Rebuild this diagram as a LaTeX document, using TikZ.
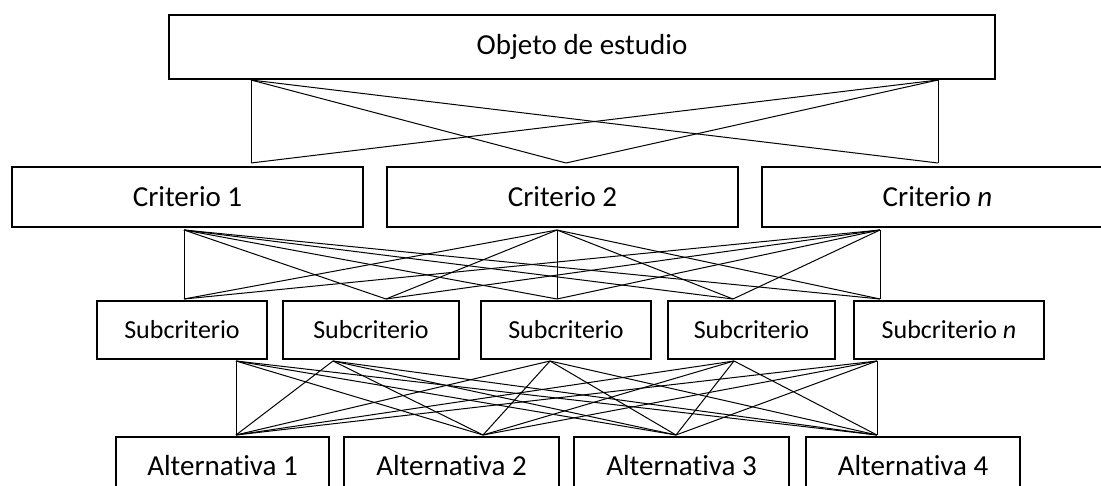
\documentclass[tikz,border=0pt]{standalone}
\usepackage{fontspec}
\setmainfont{Carlito}[Ligatures=NoCommon]
\usepackage{xcolor}
\usepackage{tikz}
\definecolor{ink}{HTML}{000000}
\tikzset{
  box/.style={draw=ink, line width=2.8pt, rectangle, inner sep=0pt, minimum height=60pt, font=\fontsize{29}{34}\selectfont},
  subbox/.style={box, minimum height=58pt, font=\fontsize{26}{31}\selectfont},
  link/.style={draw=ink, line width=1pt},
}

\begin{document}
\begin{tikzpicture}[x=1pt, y=-1pt]
  \useasboundingbox (0,0) rectangle (1101,486);
  \clip (0,0) rectangle (1101,486);

  \node[box, minimum width=826pt, minimum height=64pt] (obj) at (582,47) {Objeto de estudio};

  \node[box, minimum width=351pt] (c1) at (187.5,197) {Criterio 1};
  \node[box, minimum width=351pt] (c2) at (562.5,197) {Criterio 2};
  \node[box, minimum width=351pt] (cn) at (937.5,197) {Criterio \textit{n}};

  \node[subbox, minimum width=170pt] (s1) at (182,330) {Subcriterio};
  \node[subbox, minimum width=176pt] (s2) at (371,330) {Subcriterio};
  \node[subbox, minimum width=170pt] (s3) at (566,330) {Subcriterio};
  \node[subbox, minimum width=167pt] (s4) at (751.5,330) {Subcriterio};
  \node[subbox, minimum width=190pt] (sn) at (949,330) {Subcriterio \textit{n}};

  \node[box, minimum width=213pt, minimum height=58pt] (a1) at (222.5,466) {Alternativa 1};
  \node[box, minimum width=215pt, minimum height=58pt] (a2) at (451.5,466) {Alternativa 2};
  \node[box, minimum width=215pt, minimum height=58pt] (a3) at (681.5,466) {Alternativa 3};
  \node[box, minimum width=214pt, minimum height=58pt] (a4) at (913,466) {Alternativa 4};

  % attachment points
  \coordinate (ol) at (251,80);
  \coordinate (or) at (938,80);
  \coordinate (c1t) at (251,163);
  \coordinate (c2t) at (566,163);
  \coordinate (cnt) at (938,163);
  \coordinate (c1b) at (184,230);
  \coordinate (c2b) at (557,230);
  \coordinate (cnb) at (880,230);
  \coordinate (s1t) at (184,299);
  \coordinate (s2t) at (386,299);
  \coordinate (s3t) at (557,299);
  \coordinate (s4t) at (733,299);
  \coordinate (snt) at (880,299);
  \coordinate (s1b) at (236,361);
  \coordinate (s2b) at (333,361);
  \coordinate (s3b) at (550,361);
  \coordinate (s4b) at (734,361);
  \coordinate (snb) at (877,361);
  \coordinate (a1t) at (236,435);
  \coordinate (a2t) at (483,435);
  \coordinate (a3t) at (676,435);
  \coordinate (a4t) at (877,435);

  \foreach \u in {ol,or}{
    \foreach \v in {c1t,c2t,cnt}{\draw[link] (\u) -- (\v);}
  }
  \foreach \u in {c1b,c2b,cnb}{
    \foreach \v in {s1t,s2t,s3t,s4t,snt}{\draw[link] (\u) -- (\v);}
  }
  \foreach \u in {s1b,s2b,s3b,s4b,snb}{
    \foreach \v in {a1t,a2t,a3t,a4t}{\draw[link] (\u) -- (\v);}
  }
\end{tikzpicture}
\end{document}
